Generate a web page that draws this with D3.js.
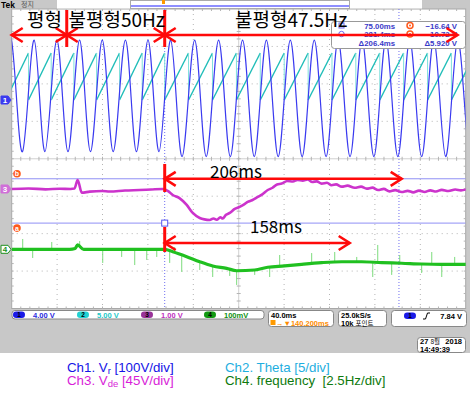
<!DOCTYPE html>
<html>
<head>
<meta charset="utf-8">
<script src="https://cdn.jsdelivr.net/npm/d3@7"></script>
<style>
  body { margin: 0; background: #fff; }
  svg { display: block; font-family: "Liberation Sans", Arial, sans-serif; }
</style>
</head>
<body>
<script>
// scope screenshot: Vr / theta / Vde / frequency, 40ms/div

// time window on screen (ms)
const timeDomain = [-59.8, 340.2];

// Ch1 Vr - peak and trough times (ms) and values (V)
const vrPeakT = [-60, -40, -20, 0, 20, 40.4, 60.3, 80.3, 101.4, 122.5, 143.6, 164.6, 185.7, 206.8, 227.8, 248.9, 269.9, 290.9, 312, 333, 354];
const vrPeakV = [156, 156, 156, 156, 156, 156, 156, 156, 156, 156, 156, 156, 156, 156, 156, 156, 156, 156, 156, 156, 156];
const vrTroughT = [-70, -50.3, -30.5, -10.2, 9.6, 29.6, 50.1, 70, 90.3, 111.6, 132.8, 153.9, 175, 196.1, 217.2, 238.3, 259.3, 280.4, 301.4, 322.5, 343.5];
const vrTroughV = [-142, -142, -142, -142, -142, -142, -142, -142, -155, -155, -155, -155, -155, -155, -155, -155, -155, -155, -155, -155, -155];

// Ch2 theta - reset times (ms), ramp low/high
const thetaResetT = [-65, -45, -25, -5, 15, 35.2, 55.2, 75, 96, 117.1, 138.2, 159.2, 180.3, 201.4, 222.4, 243.4, 264.5, 285.5, 306.6, 327.6, 348.7];
const thetaSpan = [-0.2, 6.08];

// Ch3 Vde (V)
const vdeT = [-59.8, -45, -30, -17.5, -8, -4.5, -1.7, 1.9, 8.9, 20, 26.5, 40, 53, 63, 73.2, 78, 82.1, 88, 94.4, 99.7, 105.9, 110, 114.7, 118, 120.8, 124, 126.1, 129, 132.3, 136.7, 141, 145, 148.1, 152, 157, 161, 165.8, 170, 174, 178.1, 183, 188, 192, 196.6, 201, 205, 209, 213.3, 218, 222, 226, 231, 236, 242.4, 248, 253, 258, 263, 268, 273, 278, 283.8, 289, 294, 299, 304, 309, 314, 319.1, 325, 331, 336, 342];
const vdeV = [0, 0.6, -0.4, 0.3, 0, 0.5, 10.8, -4.4, -3.2, -2.4, -3, -1.8, -1.2, -0.6, 0, -2.5, -7.2, -11, -19.2, -28.8, -34.8, -36.5, -37.2, -35.5, -37, -34, -35.4, -31, -28.8, -24, -21.5, -18.5, -15.6, -13.5, -9.6, -6.5, -1.2, 1.5, 5.5, 6.5, 9.6, 9, 11, 10, 11.5, 8.5, 9.2, 6.5, 7.5, 4.5, 5.5, 2.8, 4, 1.5, 2.8, 0.4, 1.6, -1.2, 0.2, -2.8, -1.4, -3.6, -2.2, -4, -2, -3.6, -1.6, -3, -1, -2.4, -0.6, -1.6, 0];

// Ch4 frequency (Hz)
const freqT = [-59.8, -8.7, -4, -1.7, 3.6, 75, 82.1, 94.4, 105.9, 117.3, 129.6, 138.4, 154.3, 165.8, 180.7, 195.7, 213.3, 231, 248.6, 266.2, 283.8, 301.4, 319.1, 342];
const freqV = [50, 49.99, 50.05, 50.29, 49.99, 50, 49.84, 49.51, 49.17, 48.89, 48.73, 48.57, 48.62, 48.8, 48.89, 49.0, 49.11, 49.17, 49.17, 49.11, 49.07, 49.02, 49.0, 49.0];
// noise spikes on Ch4: time and tip value
const spikeT = [-50.1, -41.3, -24.5, 0.1, 20.4, 37.1, 48.6, 59.2, 68, 79.4, 83.8, 90, 105.9, 117.3, 132.3, 138.4, 154.3, 167.5, 176.3, 204.5, 224.8, 244.2, 258.3, 262.7, 275, 282.1, 301.4, 310.3, 319.1, 330.5];
const spikeV = [50.69, 49.42, 50.49, 50.55, 49.09, 49.49, 48.95, 49.29, 49.49, 49.09, 50.15, 48.49, 48.62, 48.15, 48.22, 47.62, 48.29, 48.15, 49.62, 49.75, 49.82, 49.49, 48.15, 50.29, 48.29, 49.62, 48.42, 49.82, 48.15, 49.49];

// cursors
const cursorT = [75.0, 281.4];
const cursorLevel = [-16.64, -10.72]; // a, b (Ch2 scale)
const readoutRows = [["75.00ms", "\u221216.64 V"], ["281.4ms", "\u221210.72 V"], ["\u0394206.4ms", "\u03945.920 V"]];

// annotation
const phaseBounds = [-59.8, -11.3, 75, 333];
const phaseLabels = ["평형", "불평형50Hz", "불평형47.5Hz"];
const spanEnds = [283.8, 238]; // 206ms, 158ms arrows
const spanLabels = ["206ms", "158ms"];

// status bar
const chanSettings = ["4.00 V", "5.00 V", "1.00 V", "100mV"];
const legendRows = [
  [{ch: "Ch1. V", sub: "r", rest: "\u00a0[100V/div]"}, {ch: "Ch2. Theta [5/div]"}],
  [{ch: "Ch3. V", sub: "de", rest: "\u00a0[45V/div]"}, {ch: "Ch4. frequency\u00a0\u00a0[2.5Hz/div]"}]
];

const W = 470, H = 399;
const plot = {left: 11.7, right: 465.7, top: 9, bottom: 308.5};
const divW = (plot.right - plot.left) / 10, divH = (plot.bottom - plot.top) / 8;
const midY = (plot.top + plot.bottom) / 2, midX = (plot.left + plot.right) / 2;

const gray = "#c8c8c8";
const colors = {ch1: "#3a3af0", ch2: "#1fbdb8", ch3: "#cc33cc", ch4: "#20c020", red: "#ff0a0a"};

const svg = d3.select("body").append("svg")
  .attr("width", W).attr("height", H);

const x = d3.scaleLinear().domain(timeDomain).range([plot.left, plot.right]);

// vertical scale per channel: offset (div) of the reference level, units per div
function chanScale(offsetDiv, perDiv, ref) {
  ref = ref || 0;
  return d3.scaleLinear()
    .domain([ref + (-4 - offsetDiv) * perDiv, ref + (4 - offsetDiv) * perDiv])
    .range([plot.bottom, plot.top]);
}
const y1 = chanScale(1.609, 100);
const y2 = chanScale(1.609, 5);
const y3 = chanScale(-0.808, 45);
const y4 = chanScale(-2.419, 2.5, 50);

// background
svg.append("rect").attr("width", W).attr("height", 353).attr("fill", gray);
svg.append("rect").attr("x", plot.left).attr("y", plot.top)
  .attr("width", plot.right - plot.left).attr("height", plot.bottom - plot.top)
  .attr("fill", "#fff").attr("stroke", "#a8a8a8").attr("stroke-width", 1);

// top bar
svg.append("rect").attr("x", 57).attr("y", 0).attr("width", 73).attr("height", 8.5).attr("fill", "#fff");
svg.append("rect").attr("x", 130.5).attr("y", 0.5).attr("width", 219).attr("height", 8).attr("fill", "#fff").attr("stroke", "#aaa");
svg.append("line").attr("x1", 131).attr("x2", 349).attr("y1", 6).attr("y2", 6).attr("stroke", "#6a6aff").attr("stroke-width", 1.5);
svg.append("rect").attr("x", 350).attr("y", 0).attr("width", 72).attr("height", 8.5).attr("fill", "#fff");
svg.append("rect").attr("x", 162).attr("y", 0).attr("width", 3).attr("height", 4).attr("fill", "#ff9900");
svg.append("text").attr("x", 1).attr("y", 7.5).attr("font-size", 8.5).attr("font-weight", "bold").text("Tek");
svg.append("text").attr("x", 21).attr("y", 7).attr("font-size", 7).attr("fill", "#555")
  .attr("font-family", "Noto Sans CJK KR").text("정지");

// graticule
const grid = svg.append("g").attr("stroke", "#b4b4b4").attr("stroke-width", 1);
d3.range(1, 10).forEach(i => {
  const gx = plot.left + i * divW;
  grid.append("line").attr("x1", gx).attr("x2", gx).attr("y1", plot.top).attr("y2", plot.bottom)
    .attr("stroke-dasharray", i === 5 ? null : "1,4").attr("opacity", i === 5 ? 0.6 : 1);
});
d3.range(1, 8).forEach(j => {
  const gy = plot.top + j * divH;
  grid.append("line").attr("x1", plot.left).attr("x2", plot.right).attr("y1", gy).attr("y2", gy)
    .attr("stroke-dasharray", j === 4 ? null : "1,4").attr("opacity", j === 4 ? 0.6 : 1);
});
// minor ticks on centre lines and edges
d3.range(1, 50).forEach(k => {
  const tx = plot.left + k * divW / 5;
  grid.append("line").attr("x1", tx).attr("x2", tx).attr("y1", midY - 2).attr("y2", midY + 2);
  grid.append("line").attr("x1", tx).attr("x2", tx).attr("y1", plot.top).attr("y2", plot.top + 2);
  grid.append("line").attr("x1", tx).attr("x2", tx).attr("y1", plot.bottom - 2).attr("y2", plot.bottom);
});
d3.range(1, 40).forEach(k => {
  const ty = plot.top + k * divH / 5;
  grid.append("line").attr("x1", midX - 2).attr("x2", midX + 2).attr("y1", ty).attr("y2", ty);
  grid.append("line").attr("x1", plot.left).attr("x2", plot.left + 2).attr("y1", ty).attr("y2", ty);
  grid.append("line").attr("x1", plot.right - 2).attr("x2", plot.right).attr("y1", ty).attr("y2", ty);
});

svg.append("clipPath").attr("id", "clip").append("rect")
  .attr("x", plot.left).attr("y", plot.top)
  .attr("width", plot.right - plot.left).attr("height", plot.bottom - plot.top);
const traces = svg.append("g").attr("clip-path", "url(#clip)");

// cursors
cursorLevel.forEach(v => {
  traces.append("line").attr("x1", plot.left).attr("x2", plot.right)
    .attr("y1", y2(v)).attr("y2", y2(v)).attr("stroke", "#8f8ff5").attr("stroke-width", 1);
});
cursorT.forEach(t => {
  traces.append("line").attr("x1", x(t)).attr("x2", x(t)).attr("y1", plot.top).attr("y2", plot.bottom)
    .attr("stroke", "#6f6ff0").attr("stroke-width", 1).attr("stroke-dasharray", "1,2");
});

// Ch2 theta sawtooth: ramps, then lighter reset edges
const ramps = thetaResetT.slice(0, -1).map((t, i) => [[t, thetaSpan[0]], [thetaResetT[i + 1], thetaSpan[1]]]);
const seg = d3.line().x(d => x(d[0])).y(d => y2(d[1]));
traces.selectAll(".ramp").data(ramps).join("path")
  .attr("d", seg).attr("fill", "none").attr("stroke", colors.ch2).attr("stroke-width", 1.4);
traces.selectAll(".reset").data(thetaResetT).join("line")
  .attr("x1", d => x(d)).attr("x2", d => x(d))
  .attr("y1", y2(thetaSpan[0])).attr("y2", y2(thetaSpan[1]))
  .attr("stroke", "#7fe0dc").attr("stroke-width", 1);

// Ch1 Vr sine through extremes
const vrPts = vrPeakT.map((t, i) => [t, vrPeakV[i]])
  .concat(vrTroughT.map((t, i) => [t, vrTroughV[i]]))
  .sort((a, b) => a[0] - b[0]);
traces.append("path")
  .attr("d", d3.line().x(d => x(d[0])).y(d => y1(d[1])).curve(d3.curveNatural)(vrPts))
  .attr("fill", "none").attr("stroke", colors.ch1).attr("stroke-width", 1.2);

// Ch3 Vde
traces.append("path")
  .attr("d", d3.line().x((d, i) => x(vdeT[i])).y(d => y3(d)).curve(d3.curveMonotoneX)(vdeV))
  .attr("fill", "none").attr("stroke", colors.ch3).attr("stroke-width", 2.6);

// Ch4 frequency, with spikes
const freqAt = d3.scaleLinear().domain(freqT).range(freqV);
traces.selectAll(".spike").data(spikeT).join("line")
  .attr("x1", d => x(d)).attr("x2", d => x(d))
  .attr("y1", d => y4(freqAt(d))).attr("y2", (d, i) => y4(spikeV[i]))
  .attr("stroke", "#7ddc7d").attr("stroke-width", 1);
traces.append("path")
  .attr("d", d3.line().x((d, i) => x(freqT[i])).y(d => y4(d)).curve(d3.curveMonotoneX)(freqV))
  .attr("fill", "none").attr("stroke", colors.ch4).attr("stroke-width", 3.2);

// cursor a marker
svg.append("rect").attr("x", x(cursorT[0]) - 3).attr("y", y2(cursorLevel[0]) - 3)
  .attr("width", 6).attr("height", 6).attr("fill", "#fff").attr("stroke", "#5a5af0");

// cursor tags a / b
[["a", cursorLevel[0], 5], ["b", cursorLevel[1], -5]].forEach(([lab, v, dy]) => {
  svg.append("circle").attr("cx", 17).attr("cy", y2(v) + dy).attr("r", 3.8).attr("fill", "#ff5a1e");
  svg.append("text").attr("x", 17).attr("y", y2(v) + dy + 2.5).attr("text-anchor", "middle")
    .attr("font-size", 7).attr("font-weight", "bold").attr("fill", "#fff").text(lab);
});

// channel markers on the left
[["1", y1(0) + 1.5, colors.ch1, "#fff", true], ["3", y3(0), "#d070d8", "#fff", true], ["4", y4(50), "#fff", "#209020", false]]
  .forEach(([lab, cy, fill, tc, filled]) => {
    svg.append("path")
      .attr("d", `M1,${cy - 4}h7l3,4l-3,4h-7z`)
      .attr("fill", fill).attr("stroke", filled ? fill : "#209020");
    svg.append("text").attr("x", 5).attr("y", cy + 3).attr("text-anchor", "middle")
      .attr("font-size", 8).attr("font-weight", "bold").attr("fill", tc).text(lab);
  });

// cursor readout box
const rb = svg.append("g");
rb.append("rect").attr("x", 331.5).attr("y", 21.5).attr("width", 134).attr("height", 27)
  .attr("rx", 3).attr("fill", "#fff").attr("stroke", "#999");
rb.append("rect").attr("x", 339).attr("y", 23).attr("width", 5).attr("height", 5).attr("fill", "none").attr("stroke", "#6a6af0");
rb.append("circle").attr("cx", 341.5).attr("cy", 34).attr("r", 2.7).attr("fill", "none").attr("stroke", "#6a6af0");
[25.5, 34].forEach(cy => {
  rb.append("circle").attr("cx", 410).attr("cy", cy).attr("r", 3).attr("fill", "none").attr("stroke", "#ff5a1e").attr("stroke-width", 1.5);
  rb.append("circle").attr("cx", 410).attr("cy", cy).attr("r", 1).attr("fill", "#ff5a1e");
});
readoutRows.forEach((row, i) => {
  const by = 28.5 + i * 8.8;
  rb.append("text").attr("x", 395).attr("y", by).attr("text-anchor", "end")
    .attr("font-size", 7.8).attr("font-weight", "bold").attr("fill", "#3a3ac8").text(row[0]);
  rb.append("text").attr("x", 457).attr("y", by).attr("text-anchor", "end")
    .attr("font-size", 7.8).attr("font-weight", "bold").attr("fill", "#3a3ac8").text(row[1]);
});

// red annotations
const ann = svg.append("g").attr("stroke", colors.red).attr("stroke-width", 2.6).attr("fill", "none");
function arrow(x1, x2, yy, both) {
  ann.append("line").attr("x1", x1).attr("x2", x2).attr("y1", yy).attr("y2", yy);
  ann.append("path").attr("d", `M${x2 - 11},${yy - 7}L${x2},${yy}L${x2 - 11},${yy + 7}`);
  if (both) ann.append("path").attr("d", `M${x1 + 11},${yy - 7}L${x1},${yy}L${x1 + 11},${yy + 7}`);
}
const topArrowY = 35;
arrow(x(phaseBounds[0]), x(phaseBounds[1]), topArrowY, true);
arrow(x(phaseBounds[1]), x(phaseBounds[2]), topArrowY, true);
arrow(x(phaseBounds[2]), x(phaseBounds[3]), topArrowY, true);
[phaseBounds[1], phaseBounds[2]].forEach(t => {
  ann.append("line").attr("x1", x(t)).attr("x2", x(t)).attr("y1", 10).attr("y2", 47).attr("stroke-width", 3);
});
const labelX = [27, 68.5, 235];
phaseLabels.forEach((s, i) => {
  svg.append("text").attr("x", labelX[i]).attr("y", 26.5).attr("font-size", 19)
    .attr("font-family", "Noto Sans CJK KR").attr("fill", "#000").text(s);
});

const spanY = [y2(cursorLevel[1]), 243];
const spanTop = [[164, 192], [227, 252]];
spanEnds.forEach((t, i) => {
  ann.append("line").attr("x1", x(cursorT[0])).attr("x2", x(cursorT[0]))
    .attr("y1", spanTop[i][0]).attr("y2", spanTop[i][1]).attr("stroke-width", 3);
  arrow(x(cursorT[0]), x(t), spanY[i], true);
});
svg.append("text").attr("x", 210).attr("y", 178).attr("font-size", 17)
  .attr("font-family", "Noto Sans CJK KR").text(spanLabels[0]);
svg.append("text").attr("x", 250).attr("y", 233).attr("font-size", 17)
  .attr("font-family", "Noto Sans CJK KR").text(spanLabels[1]);

// status bar
const sb = svg.append("g").attr("font-size", 7.5).attr("font-weight", "bold");
sb.append("rect").attr("x", 12).attr("y", 310.5).attr("width", 252).attr("height", 8.5)
  .attr("rx", 3).attr("fill", "#fff").attr("stroke", "#888");
const pillX = [13, 77, 141, 204];
const pillFill = ["#1a1ae8", "#22d2d2", "#993399", "#119911"];
const textFill = ["#2a2ae0", "#22c8c8", "#c030c0", "#109010"];
chanSettings.forEach((s, i) => {
  sb.append("rect").attr("x", pillX[i]).attr("y", 311.5).attr("width", 12).attr("height", 6.5)
    .attr("rx", 3.2).attr("fill", pillFill[i]);
  sb.append("text").attr("x", pillX[i] + 6).attr("y", 317.3).attr("text-anchor", "middle")
    .attr("font-size", 6.5).attr("fill", "#000").text(i + 1);
  sb.append("text").attr("x", pillX[i] + 20).attr("y", 317.5).attr("fill", textFill[i]).text(s);
});
[[268, 65], [338, 48], [391, 75]].forEach(([bx, bw]) => {
  sb.append("rect").attr("x", bx + 0.5).attr("y", 310.5).attr("width", bw).attr("height", 16)
    .attr("rx", 3).attr("fill", "#fff").attr("stroke", "#888");
});
sb.append("text").attr("x", 271).attr("y", 317.5).text("40.0ms");
sb.append("rect").attr("x", 270.5).attr("y", 320).attr("width", 5).attr("height", 5).attr("fill", "#ff9a00");
sb.append("text").attr("x", 276).attr("y", 325.5).attr("fill", "#ff8c00").text("\u2192\u25bc140.200ms");
sb.append("text").attr("x", 341).attr("y", 317.5).text("25.0kS/s");
sb.append("text").attr("x", 341).attr("y", 325.8).text("10k ")
  .append("tspan").attr("font-family", "Noto Sans CJK KR").attr("font-weight", "normal").attr("font-size", 6.5).text("포인트");
sb.append("rect").attr("x", 404).attr("y", 312.5).attr("width", 12).attr("height", 6.5).attr("rx", 3.2).attr("fill", pillFill[0]);
sb.append("text").attr("x", 410).attr("y", 318.3).attr("text-anchor", "middle").attr("font-size", 6.5).text("1");
sb.append("path").attr("d", "M423,319h2.5l2,-6h2.5").attr("fill", "none").attr("stroke", "#000").attr("stroke-width", 1);
sb.append("text").attr("x", 462).attr("y", 318.5).attr("text-anchor", "end").text("7.84 V");
sb.append("rect").attr("x", 417.5).attr("y", 337.5).attr("width", 48).attr("height", 15)
  .attr("rx", 3).attr("fill", "#fff").attr("stroke", "#888");
sb.append("text").attr("x", 420).attr("y", 344.3).text("27 ")
  .append("tspan").attr("font-family", "Noto Sans CJK KR").attr("font-weight", "normal").attr("font-size", 6.5).text("8월");
sb.append("text").attr("x", 462).attr("y", 344.3).attr("text-anchor", "end").text("2018");
sb.append("text").attr("x", 420).attr("y", 352).text("14:49:39");

// legend under the screen
const legendColors = [["#1414e6", "#1eaee0"], ["#d81ed8", "#0e7a0e"]];
const legendX = [67, 225];
legendRows.forEach((row, r) => {
  row.forEach((item, c) => {
    const t = svg.append("text").attr("x", legendX[c]).attr("y", 371.5 + r * 13.2)
      .attr("font-size", 13.3).attr("fill", legendColors[r][c]);
    t.append("tspan").text(item.ch);
    if (item.sub) {
      t.append("tspan").attr("font-size", 9.5).attr("dy", 2.3).text(item.sub);
      t.append("tspan").attr("dy", -2.3).text(item.rest);
    }
  });
});
</script>
</body>
</html>
